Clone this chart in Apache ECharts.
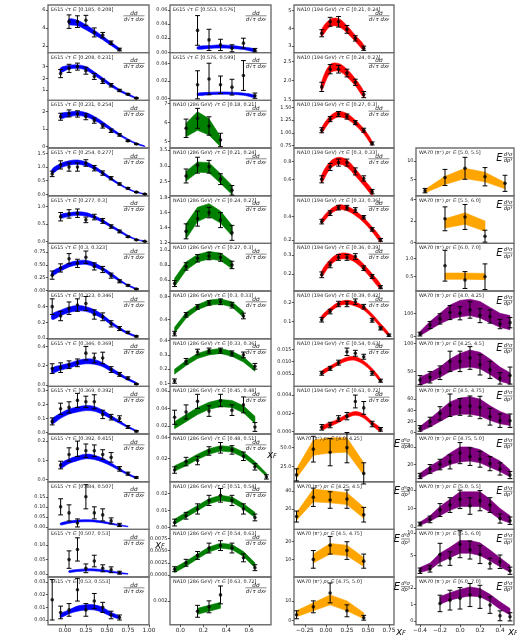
<!DOCTYPE html>
<html>
<head>
<meta charset="utf-8">
<script src="https://cdn.jsdelivr.net/npm/echarts@6/dist/echarts.min.js"></script>
<style>
html,body{margin:0;padding:0;background:#fff}
#chart{width:517px;height:638px}
</style>
</head>
<body>
<div id="chart"></div>
<script>
// ---- Drell-Yan / prompt-photon cross sections: measured points with errors and model bands ----

// E615 (pi- W), bins of sqrt(tau); [xF, value, error]
const E615_BINS = ['[0.185, 0.208]','[0.208, 0.231]','[0.231, 0.254]','[0.254, 0.277]','[0.277, 0.3]','[0.3, 0.323]','[0.323, 0.346]','[0.346, 0.369]','[0.369, 0.392]','[0.392, 0.415]','[0.484, 0.507]','[0.507, 0.53]','[0.53, 0.553]','[0.553, 0.576]','[0.576, 0.599]'];
const E615_POINTS = [
 [[0.05,4.7,0.75],[0.15,4.7,0.65],[0.25,4.85,0.55],[0.35,3.5,0.5],[0.45,3.2,0.3],[0.55,2.35,0.2],[0.65,1.6,0.15]],
 [[-0.05,2.4,0.35],[0.05,2.85,0.35],[0.15,3.0,0.3],[0.25,2.65,0.3],[0.35,2.15,0.25],[0.45,1.75,0.2],[0.55,1.4,0.15],[0.65,0.95,0.1],[0.75,0.63,0.07],[0.85,0.29,0.04]],
 [[-0.05,1.71,0.2],[0.05,1.9,0.2],[0.15,1.87,0.18],[0.25,1.71,0.17],[0.35,1.49,0.15],[0.45,1.18,0.12],[0.55,0.91,0.1],[0.65,0.67,0.07],[0.75,0.33,0.04],[0.85,0.15,0.02]],
 [[-0.15,0.75,0.1],[-0.05,1.08,0.15],[0.05,1.0,0.15],[0.15,1.0,0.15],[0.25,1.15,0.12],[0.35,0.96,0.1],[0.45,0.78,0.08],[0.55,0.59,0.06],[0.65,0.38,0.04],[0.75,0.22,0.03],[0.85,0.08,0.015],[0.95,0.01,0.01]],
 [[-0.05,0.71,0.12],[0.05,0.79,0.12],[0.15,0.81,0.12],[0.25,0.62,0.08],[0.35,0.7,0.08],[0.45,0.59,0.07],[0.55,0.43,0.05],[0.65,0.29,0.04],[0.75,0.14,0.02],[0.85,0.05,0.01],[0.95,0.005,0.005]],
 [[-0.15,0.3,0.08],[-0.05,0.44,0.08],[0.05,0.62,0.1],[0.15,0.53,0.08],[0.25,0.65,0.12],[0.35,0.47,0.07],[0.45,0.41,0.06],[0.55,0.29,0.05],[0.65,0.18,0.03],[0.75,0.1,0.015],[0.85,0.03,0.008]],
 [[-0.15,0.4,0.1],[-0.05,0.28,0.06],[0.05,0.38,0.08],[0.15,0.42,0.08],[0.25,0.44,0.09],[0.35,0.3,0.06],[0.45,0.27,0.05],[0.55,0.18,0.04],[0.65,0.12,0.025],[0.75,0.07,0.015],[0.85,0.02,0.008]],
 [[-0.15,0.17,0.05],[-0.05,0.18,0.05],[0.05,0.21,0.04],[0.15,0.23,0.04],[0.25,0.33,0.07],[0.35,0.28,0.05],[0.45,0.28,0.06],[0.55,0.16,0.03],[0.65,0.11,0.02],[0.75,0.07,0.015],[0.85,0.01,0.005]],
 [[-0.15,0.08,0.025],[-0.05,0.17,0.04],[0.05,0.18,0.04],[0.15,0.23,0.05],[0.25,0.22,0.04],[0.35,0.22,0.05],[0.45,0.13,0.03],[0.55,0.11,0.02],[0.65,0.1,0.02],[0.75,0.04,0.01],[0.85,0.01,0.005]],
 [[-0.05,0.075,0.02],[0.05,0.13,0.035],[0.15,0.16,0.04],[0.25,0.15,0.035],[0.35,0.15,0.03],[0.45,0.13,0.025],[0.55,0.115,0.025],[0.65,0.055,0.012],[0.75,0.03,0.008],[0.85,0.01,0.004]],
 [[-0.05,0.1,0.04],[0.05,0.07,0.04],[0.15,0.02,0.02],[0.25,0.15,0.06],[0.35,0.07,0.03],[0.45,0.06,0.03],[0.55,0.03,0.015],[0.65,0.01,0.008]],
 [[0.05,0.05,0.03],[0.15,0.085,0.04],[0.25,0.02,0.015],[0.35,0.045,0.02],[0.45,0.02,0.012],[0.55,0.015,0.01],[0.65,0.005,0.005]],
 [[-0.15,0.016,0.016],[-0.05,0.006,0.005],[0.05,0.008,0.005],[0.15,0.024,0.009],[0.25,0.008,0.005],[0.35,0.015,0.006],[0.45,0.01,0.004],[0.55,0.004,0.003],[0.65,0.002,0.002]],
 [[0.15,0.031,0.021],[0.25,0.0176,0.015],[0.35,0.0105,0.008],[0.45,0.0057,0.005],[0.55,0.013,0.007],[0.65,0.003,0.0025]],
 [[0.15,0.0154,0.016],[0.25,0.022,0.018],[0.35,0.0154,0.01],[0.45,0.0127,0.009],[0.55,0.026,0.017],[0.65,0.003,0.003]]
];
// model bands: [xF, lower, upper]
const E615_BANDS = [
 [[0.05,4.4,5.0],[0.15,4.25,4.85],[0.25,3.8,4.35],[0.35,3.25,3.75],[0.45,2.7,3.1],[0.55,2.05,2.4],[0.65,1.45,1.7]],
 [[-0.05,2.5,2.9],[0.05,2.8,3.1],[0.15,2.85,3.15],[0.25,2.7,3.0],[0.35,2.25,2.55],[0.45,1.76,2.04],[0.55,1.28,1.52],[0.65,0.86,1.04],[0.75,0.53,0.67],[0.85,0.24,0.32]],
 [[-0.05,1.62,1.88],[0.05,1.72,1.98],[0.15,1.78,2.02],[0.25,1.71,1.95],[0.35,1.51,1.73],[0.45,1.23,1.43],[0.55,0.92,1.08],[0.65,0.62,0.74],[0.75,0.36,0.44],[0.85,0.14,0.2],[0.95,0.0,0.04]],
 [[-0.15,0.77,0.93],[-0.05,0.97,1.13],[0.05,1.07,1.23],[0.15,1.1,1.26],[0.25,1.05,1.19],[0.35,0.92,1.04],[0.45,0.73,0.83],[0.55,0.53,0.61],[0.65,0.34,0.4],[0.75,0.18,0.22],[0.85,0.07,0.09],[0.95,0.0,0.02]],
 [[-0.05,0.67,0.77],[0.05,0.72,0.82],[0.15,0.75,0.85],[0.25,0.73,0.83],[0.35,0.66,0.74],[0.45,0.54,0.62],[0.55,0.41,0.47],[0.65,0.27,0.33],[0.75,0.14,0.18],[0.85,0.05,0.07],[0.95,0.0,0.02]],
 [[-0.15,0.29,0.37],[-0.05,0.38,0.46],[0.05,0.46,0.54],[0.15,0.5,0.58],[0.25,0.51,0.59],[0.35,0.46,0.54],[0.45,0.39,0.45],[0.55,0.28,0.34],[0.65,0.18,0.22],[0.75,0.09,0.11],[0.85,0.02,0.04]],
 [[-0.15,0.235,0.305],[-0.05,0.285,0.355],[0.05,0.325,0.395],[0.15,0.345,0.415],[0.25,0.34,0.4],[0.35,0.3,0.36],[0.45,0.245,0.295],[0.55,0.17,0.21],[0.65,0.105,0.135],[0.75,0.05,0.07],[0.85,0.012,0.028]],
 [[-0.15,0.125,0.175],[-0.05,0.155,0.205],[0.05,0.175,0.225],[0.15,0.205,0.255],[0.25,0.22,0.27],[0.35,0.215,0.265],[0.45,0.19,0.23],[0.55,0.14,0.18],[0.65,0.095,0.125],[0.75,0.05,0.07],[0.85,0.014,0.026]],
 [[-0.15,0.062,0.098],[-0.05,0.102,0.138],[0.05,0.132,0.168],[0.15,0.147,0.183],[0.25,0.157,0.193],[0.35,0.153,0.187],[0.45,0.13,0.16],[0.55,0.098,0.122],[0.65,0.066,0.084],[0.75,0.034,0.046],[0.85,0.008,0.016]],
 [[-0.05,0.058,0.082],[0.05,0.083,0.107],[0.15,0.098,0.122],[0.25,0.108,0.132],[0.35,0.104,0.126],[0.45,0.09,0.11],[0.55,0.07,0.086],[0.65,0.046,0.058],[0.75,0.023,0.031],[0.85,0.005,0.011]],
 [[-0.05,0.01,0.02],[0.05,0.018,0.028],[0.15,0.024,0.034],[0.25,0.026,0.036],[0.35,0.025,0.034],[0.45,0.02,0.028],[0.55,0.013,0.02],[0.65,0.006,0.011],[0.75,0.001,0.004]],
 [[0.05,0.006,0.012],[0.15,0.009,0.016],[0.25,0.011,0.018],[0.35,0.011,0.018],[0.45,0.009,0.015],[0.55,0.006,0.011],[0.65,0.002,0.006],[0.75,0.0,0.002]],
 [[-0.05,0.002,0.005],[0.05,0.005,0.008],[0.15,0.007,0.011],[0.25,0.008,0.012],[0.35,0.008,0.012],[0.45,0.006,0.01],[0.55,0.003,0.006],[0.65,0.001,0.003]],
 [[0.15,0.0045,0.008],[0.25,0.0055,0.0095],[0.35,0.006,0.0105],[0.45,0.0055,0.0095],[0.55,0.004,0.0075],[0.65,0.001,0.0045]],
 [[0.15,0.0032,0.0058],[0.25,0.0042,0.0068],[0.35,0.0047,0.0073],[0.45,0.0044,0.007],[0.55,0.0035,0.006],[0.65,0.001,0.0035]]
];
const E615_YLIM = [[1.25,6.55],[0.1,4.2],[-0.08,2.65],[-0.05,1.7],[-0.05,1.31],[-0.01,0.92],[-0.01,0.6],[-0.014,0.48],[-0.01,0.33],[-0.012,0.237],[-0.012,0.225],[-0.01,0.154],[-0.0037,0.034],[-0.0005,0.067],[-0.0023,0.052]];
const E615_YTICKS = [['2','4','6'],['1','2','3'],['0','1','2'],['0.0','0.5','1.0','1.5'],['0.0','0.5','1.0'],['0.00','0.25','0.50','0.75'],['0.0','0.2','0.4'],['0.0','0.2','0.4'],['0.0','0.1','0.2','0.3'],['0.0','0.1','0.2'],['0.00','0.05','0.10','0.15'],['0.00','0.05','0.10'],['0.00','0.01','0.02','0.03'],['0.00','0.02','0.04','0.06'],['0.00','0.02','0.04']];

// NA10 at 286 GeV
const NA10_286_BINS = ['[0.18, 0.21]','[0.21, 0.24]','[0.24, 0.27]','[0.27, 0.3]','[0.3, 0.33]','[0.33, 0.36]','[0.45, 0.48]','[0.48, 0.51]','[0.51, 0.54]','[0.54, 0.63]','[0.63, 0.72]'];
const NA10_286_POINTS = [
 [[0.05,5.7,0.48],[0.15,6.22,0.52],[0.25,5.82,0.48],[0.35,5.09,0.35]],
 [[0.05,2.68,0.22],[0.15,3.02,0.25],[0.25,2.97,0.2],[0.35,2.58,0.17],[0.45,2.23,0.15]],
 [[0.05,1.35,0.1],[0.15,1.52,0.1],[0.25,1.6,0.07],[0.35,1.5,0.1],[0.45,1.33,0.1]],
 [[-0.05,0.55,0.04],[0.05,0.78,0.05],[0.15,0.89,0.05],[0.25,0.92,0.05],[0.35,0.9,0.05],[0.45,0.8,0.05]],
 [[-0.05,0.15,0.04],[0.05,0.48,0.04],[0.15,0.62,0.04],[0.25,0.69,0.04],[0.35,0.71,0.05],[0.45,0.65,0.05],[0.55,0.46,0.05]],
 [[-0.05,0.116,0.015],[0.05,0.255,0.02],[0.15,0.32,0.02],[0.25,0.33,0.018],[0.35,0.33,0.018],[0.45,0.31,0.018],[0.55,0.3,0.02],[0.65,0.22,0.02]],
 [[-0.05,0.03,0.008],[0.05,0.036,0.008],[0.15,0.048,0.008],[0.25,0.037,0.006],[0.35,0.049,0.007],[0.45,0.038,0.006],[0.55,0.044,0.009],[0.65,0.019,0.005]],
 [[-0.05,0.009,0.003],[0.05,0.017,0.004],[0.15,0.018,0.004],[0.25,0.027,0.004],[0.35,0.03,0.005],[0.45,0.028,0.004],[0.55,0.022,0.004],[0.65,0.012,0.003],[0.75,0.0025,0.002]],
 [[-0.05,0.003,0.002],[0.05,0.007,0.002],[0.15,0.011,0.003],[0.25,0.016,0.003],[0.35,0.019,0.004],[0.45,0.016,0.003],[0.55,0.011,0.003],[0.65,0.006,0.002]],
 [[-0.05,0.0012,0.0005],[0.05,0.0025,0.0007],[0.15,0.004,0.0008],[0.25,0.0055,0.001],[0.35,0.006,0.001],[0.45,0.0055,0.001],[0.55,0.0035,0.0008],[0.65,0.0015,0.0006]],
 [[0.15,0.0013,0.0004],[0.25,0.0016,0.0004],[0.35,0.0024,0.0006]]
];
const NA10_286_BANDS = [
 [[0.05,5.26,5.96],[0.15,5.6,6.57],[0.25,5.35,6.2],[0.35,4.74,5.26]],
 [[0.05,2.52,2.82],[0.15,2.8,3.12],[0.25,2.78,3.1],[0.35,2.45,2.75],[0.45,2.1,2.38]],
 [[0.05,1.25,1.45],[0.15,1.48,1.67],[0.25,1.55,1.72],[0.35,1.46,1.62],[0.45,1.29,1.43]],
 [[-0.05,0.51,0.62],[0.05,0.73,0.84],[0.15,0.84,0.94],[0.25,0.88,0.98],[0.35,0.86,0.96],[0.45,0.75,0.85]],
 [[-0.05,0.16,0.26],[0.05,0.42,0.52],[0.15,0.57,0.66],[0.25,0.65,0.74],[0.35,0.67,0.76],[0.45,0.62,0.71],[0.55,0.44,0.54]],
 [[-0.05,0.165,0.2],[0.05,0.225,0.26],[0.15,0.275,0.31],[0.25,0.3,0.335],[0.35,0.31,0.345],[0.45,0.29,0.325],[0.55,0.25,0.285],[0.65,0.185,0.215]],
 [[-0.05,0.017,0.025],[0.05,0.025,0.033],[0.15,0.033,0.041],[0.25,0.039,0.047],[0.35,0.042,0.05],[0.45,0.041,0.049],[0.55,0.035,0.043],[0.65,0.023,0.031]],
 [[-0.05,0.008,0.013],[0.05,0.013,0.018],[0.15,0.019,0.024],[0.25,0.024,0.029],[0.35,0.027,0.032],[0.45,0.026,0.031],[0.55,0.021,0.026],[0.65,0.013,0.017],[0.75,0.003,0.006]],
 [[-0.05,0.002,0.005],[0.05,0.006,0.009],[0.15,0.01,0.013],[0.25,0.014,0.017],[0.35,0.016,0.019],[0.45,0.015,0.018],[0.55,0.011,0.014],[0.65,0.006,0.009]],
 [[-0.05,0.0005,0.0015],[0.05,0.0018,0.0028],[0.15,0.0033,0.0043],[0.25,0.0047,0.0057],[0.35,0.0055,0.0065],[0.45,0.0052,0.0062],[0.55,0.0038,0.0048],[0.65,0.0015,0.0025]],
 [[0.15,0.0011,0.0015],[0.25,0.0013,0.0017],[0.35,0.0015,0.0019]]
];
const NA10_286_YLIM = [[4.67,7.16],[2.06,3.56],[1.19,1.826],[0.45,1.09],[0.06,0.9],[0.079,0.414],[0.011,0.065],[-0.002,0.043],[-0.001,0.027],[-0.0004,0.0093],[0.0004,0.0036]];
const NA10_286_YTICKS = [['5','6','7'],['2.5','3.0','3.5'],['1.2','1.4','1.6','1.8'],['0.6','0.8','1.0'],['0.4','0.8'],['0.1','0.2','0.3','0.4'],['0.02','0.04','0.06'],['0.02','0.04'],['0.00','0.01','0.02'],['0.0000','0.0025','0.0050','0.0075'],['0.002']];

// NA10 at 194 GeV
const NA10_194_BINS = ['[0.21, 0.24]','[0.24, 0.27]','[0.27, 0.3]','[0.3, 0.33]','[0.33, 0.36]','[0.36, 0.39]','[0.39, 0.42]','[0.54, 0.63]','[0.63, 0.72]'];
const NA10_194_POINTS = [
 [[-0.05,3.72,0.2],[0.05,4.37,0.25],[0.15,4.37,0.3],[0.25,3.94,0.22],[0.35,3.43,0.15],[0.45,2.87,0.12]],
 [[-0.05,1.84,0.12],[0.05,2.3,0.12],[0.15,2.3,0.1],[0.25,2.2,0.1],[0.35,1.96,0.08],[0.45,1.64,0.08]],
 [[-0.05,1.05,0.05],[0.05,1.27,0.05],[0.15,1.37,0.05],[0.25,1.32,0.05],[0.35,1.2,0.04],[0.45,1.05,0.04],[0.55,0.79,0.03]],
 [[-0.05,0.6,0.04],[0.05,0.74,0.04],[0.15,0.79,0.04],[0.25,0.79,0.04],[0.35,0.69,0.04],[0.45,0.61,0.03],[0.55,0.46,0.025]],
 [[-0.05,0.357,0.02],[0.05,0.43,0.02],[0.15,0.477,0.02],[0.25,0.477,0.02],[0.35,0.457,0.02],[0.45,0.394,0.015],[0.55,0.29,0.015],[0.65,0.2,0.012]],
 [[-0.05,0.195,0.015],[0.05,0.247,0.015],[0.15,0.286,0.015],[0.25,0.286,0.015],[0.35,0.291,0.015],[0.45,0.23,0.012],[0.55,0.186,0.01],[0.65,0.13,0.008]],
 [[-0.05,0.11,0.012],[0.05,0.152,0.012],[0.15,0.191,0.014],[0.25,0.191,0.014],[0.35,0.203,0.014],[0.45,0.177,0.012],[0.55,0.107,0.01],[0.65,0.065,0.008],[0.75,0.03,0.006]],
 [[-0.05,0.0053,0.0008],[0.05,0.0073,0.0008],[0.15,0.0096,0.001],[0.25,0.014,0.0015],[0.35,0.0134,0.0012],[0.45,0.012,0.001],[0.55,0.0053,0.0008],[0.65,0.0023,0.0006]],
 [[-0.05,0.00048,0.0003],[0.05,0.00073,0.0003],[0.15,0.00145,0.0003],[0.25,0.0017,0.0004],[0.35,0.0033,0.0007],[0.45,0.0026,0.0007],[0.55,0.00084,0.0003],[0.65,0.00026,0.0002]]
];
const NA10_194_BANDS = [
 [[-0.05,3.55,3.95],[0.05,4.1,4.5],[0.15,4.1,4.55],[0.25,3.75,4.15],[0.35,3.25,3.6],[0.45,2.77,3.06]],
 [[-0.05,1.75,1.98],[0.05,2.2,2.42],[0.15,2.25,2.45],[0.25,2.1,2.3],[0.35,1.87,2.05],[0.45,1.57,1.72]],
 [[-0.05,1.0,1.1],[0.05,1.22,1.33],[0.15,1.31,1.42],[0.25,1.27,1.38],[0.35,1.15,1.25],[0.45,0.98,1.08],[0.55,0.75,0.83]],
 [[-0.05,0.56,0.65],[0.05,0.72,0.8],[0.15,0.77,0.85],[0.25,0.74,0.82],[0.35,0.64,0.72],[0.45,0.53,0.6],[0.55,0.42,0.48]],
 [[-0.05,0.34,0.38],[0.05,0.42,0.46],[0.15,0.46,0.5],[0.25,0.45,0.49],[0.35,0.41,0.45],[0.45,0.35,0.39],[0.55,0.27,0.31],[0.65,0.18,0.22]],
 [[-0.05,0.185,0.215],[0.05,0.245,0.275],[0.15,0.275,0.305],[0.25,0.278,0.308],[0.35,0.26,0.29],[0.45,0.22,0.25],[0.55,0.17,0.2],[0.65,0.12,0.145]],
 [[-0.05,0.11,0.13],[0.05,0.15,0.17],[0.15,0.18,0.2],[0.25,0.19,0.21],[0.35,0.18,0.2],[0.45,0.16,0.18],[0.55,0.12,0.14],[0.65,0.07,0.09],[0.75,0.025,0.04]],
 [[-0.05,0.0048,0.0062],[0.05,0.0068,0.0082],[0.15,0.0088,0.0102],[0.25,0.0103,0.0118],[0.35,0.0105,0.012],[0.45,0.0088,0.0103],[0.55,0.0058,0.0072],[0.65,0.0018,0.003]],
 [[-0.05,0.0002,0.0006],[0.05,0.0006,0.001],[0.15,0.001,0.0014],[0.25,0.0015,0.0019],[0.35,0.0018,0.0022],[0.45,0.0015,0.0019],[0.55,0.0007,0.0011],[0.65,0.0,0.0004]]
];
const NA10_194_YLIM = [[2.62,5.32],[1.49,2.73],[0.70,1.64],[0.414,0.956],[0.17,0.58],[0.11,0.36],[0.012,0.258],[0.0,0.0193],[-0.00025,0.00495]];
const NA10_194_YTICKS = [['3','4','5'],['1.5','2.0','2.5'],['0.75','1.00','1.25','1.50'],['0.6','0.8'],['0.2','0.4'],['0.2','0.3'],['0.1','0.2'],['0.005','0.010','0.015'],['0.000','0.002','0.004']];

// WA70 prompt photons, pi+ beam, bins of pT
const WA70_PIP_BINS = ['[4.0, 4.25]','[4.25, 4.5]','[4.5, 4.75]','[4.75, 5.0]','[5.0, 5.5]','[5.5, 6.0]','[6.0, 7.0]'];
const WA70_PIP_POINTS = [
 [[-0.35,14,8],[-0.15,48,17],[0.05,44,18],[0.25,50,20],[0.45,16,14]],
 [[-0.35,12,6],[-0.15,33,10],[0.05,30,9],[0.25,31,10],[0.45,14,8]],
 [[-0.15,10,5],[0.05,18,5],[0.25,15,5],[0.45,9,4]],
 [[-0.35,3,2],[-0.15,7,3],[0.05,14,5],[0.25,5,3],[0.45,1.5,1.2]],
 [[-0.35,1.9,0.6],[-0.15,5.5,2.2],[0.05,8.0,3.0],[0.25,5.7,2.5],[0.45,3.9,2.2]],
 [[-0.15,2.2,1.1],[0.05,2.37,1.15],[0.25,0.6,0.55]],
 [[-0.15,0.8,0.42],[0.05,0.41,0.23],[0.25,0.5,0.35]]
];
const WA70_PIP_BANDS = [
 [[-0.35,10,22],[-0.15,40,60],[0.05,43,63],[0.25,44,63],[0.45,14,30]],
 [[-0.35,8,16],[-0.15,28,42],[0.05,27,40],[0.25,25,38],[0.45,10,22]],
 [[-0.15,8,13],[0.05,13,19],[0.25,12,18],[0.45,6,11]],
 [[-0.35,2,5],[-0.15,5,9],[0.05,8,13],[0.25,5,10],[0.45,1,4]],
 [[-0.35,1.3,2.2],[-0.15,3.6,5.8],[0.05,5.2,8.0],[0.25,4.3,6.9],[0.45,2.4,4.1]],
 [[-0.15,1.35,2.2],[0.05,1.7,2.75],[0.25,1.05,2.0]],
 [[-0.15,0.43,0.6],[0.05,0.43,0.6],[0.25,0.42,0.59]]
];
const WA70_PIP_YLIM = [[5,68],[-2,50],[0,27],[-2,22],[0.52,13.55],[-0.06,4.33],[0.11,1.41]];
const WA70_PIP_YTICKS = [['25.0','50.0'],['20','40'],['10','20'],['0','10'],['5','10'],['0','2','4'],['0.5','1.0']];

// WA70 prompt photons, pi- beam
const WA70_PIM_BINS = ['[4.0, 4.25]','[4.25, 4.5]','[4.5, 4.75]','[4.75, 5.0]','[5.0, 5.5]','[5.5, 6.0]','[6.0, 7.0]'];
const WA70_PIM_POINTS = [
 [[-0.4,11,8],[-0.3,50,15],[-0.2,76,22],[-0.1,103,30],[0.0,100,28],[0.1,114,35],[0.2,90,30],[0.3,86,28],[0.4,54,20],[0.5,60,22]],
 [[-0.4,35,8],[-0.3,40,10],[-0.2,48,12],[-0.1,68,18],[0.0,68,18],[0.1,74,20],[0.2,62,18],[0.3,53,15],[0.4,38,10],[0.5,43,15]],
 [[-0.4,7.7,5],[-0.3,19.6,8],[-0.2,34.4,12],[-0.1,49,20],[0.0,46,15],[0.1,47.5,18],[0.2,45,20],[0.3,28.5,15],[0.4,21.4,12],[0.5,21.4,12]],
 [[-0.4,7,3],[-0.3,15,5],[-0.2,20,6],[-0.1,23,8],[0.0,33,12],[0.1,29,10],[0.2,26,9],[0.3,21,8],[0.4,15,7],[0.5,8,4]],
 [[-0.4,1.5,1],[-0.3,4,1.8],[-0.2,9.1,3.5],[-0.1,11.8,4],[0.0,14.9,5],[0.1,11.3,4.5],[0.2,14.2,5.5],[0.3,11.8,4],[0.4,4.5,2.5],[0.5,3.3,2]],
 [[-0.4,1.6,0.6],[-0.3,2.0,0.7],[-0.2,5.2,2.5],[-0.1,4.3,1.5],[0.0,7.5,3.0],[0.1,6.2,2],[0.2,5.2,2],[0.3,3.2,1.2],[0.4,3.6,1.5],[0.5,1.6,0.8]],
 [[-0.2,1.05,0.5],[-0.1,1.25,0.6],[0.0,1.36,0.65],[0.1,1.56,0.7],[0.2,1.45,0.7],[0.3,0.95,0.5],[0.4,0.3,0.3],[0.5,0.24,0.25]]
];
const WA70_PIM_BANDS = [
 [[-0.4,4,22],[-0.3,30,65],[-0.2,55,100],[-0.1,75,135],[0.0,85,155],[0.1,90,160],[0.2,80,150],[0.3,60,125],[0.4,40,100],[0.5,30,90]],
 [[-0.4,26,40],[-0.3,32,48],[-0.2,40,58],[-0.1,50,72],[0.0,56,82],[0.1,58,88],[0.2,55,84],[0.3,45,72],[0.4,33,58],[0.5,28,48]],
 [[-0.4,2,11],[-0.3,10,25],[-0.2,20,40],[-0.1,30,55],[0.0,33,62],[0.1,33,64],[0.2,30,60],[0.3,22,48],[0.4,16,38],[0.5,13,31]],
 [[-0.4,4,10],[-0.3,10,18],[-0.2,15,25],[-0.1,20,33],[0.0,23,40],[0.1,24,40],[0.2,22,37],[0.3,17,30],[0.4,12,24],[0.5,6,14]],
 [[-0.4,0.8,2.5],[-0.3,3,6],[-0.2,6,11],[-0.1,9,15],[0.0,11,19],[0.1,11,19],[0.2,11,19],[0.3,8,15],[0.4,4,10],[0.5,2,6]],
 [[-0.4,1.2,2.3],[-0.3,1.8,3.3],[-0.2,3.5,5.5],[-0.1,4.5,6.8],[0.0,5.5,8.3],[0.1,5.5,8.3],[0.2,5,7.8],[0.3,3.8,6.2],[0.4,2.5,4.5],[0.5,1.3,2.8]],
 [[-0.2,1.0,1.45],[-0.1,1.25,1.7],[0.0,1.4,1.9],[0.1,1.5,2.05],[0.2,1.45,1.95],[0.3,1.15,1.6],[0.4,0.7,1.15],[0.5,0.35,0.75]]
];
const WA70_PIM_YLIM = [[-8.5,195],[24,108],[-2.4,82.7],[0.5,54.7],[-1.4,24.5],[0.2,10.8],[-0.24,2.65]];
const WA70_PIM_YTICKS = [['0','100'],['50','100'],['0','20','40','60'],['20','40'],['0','10','20'],['5','10'],['0','1','2']];

// x-axis tick labels of the bottom panel in each column
const X_TICKS = [['0.00','0.25','0.50','0.75','1.00'],['0.0','0.2','0.4','0.6'],['−0.25','0.00','0.25','0.50','0.75'],['−0.4','−0.2','0.0','0.2','0.4']];

// ---- layout ----
const ROW_TOP = 5, ROW_H = 47.67, NROWS = 13;
const COLS = [
  {left: 48,  right: 149, xMin: -0.2,  xMax: 1.0},
  {left: 170, right: 271, xMin: -0.09, xMax: 0.79},
  {left: 294, right: 394, xMin: -0.38, xMax: 0.81},
  {left: 416, right: 514, xMin: -0.44, xMax: 0.54}
];
const FONT = '"DejaVu Sans", "Liberation Sans", sans-serif';
const STYLE = {
  e615: {color: '#0000ff', smooth: 0.35, head: 'E615 √τ ∈ ', frac: 'tau'},
  n286: {color: '#008000', smooth: 0,    head: 'NA10 (286 GeV) √τ ∈ ', frac: 'tau'},
  n194: {color: '#ff0000', smooth: 0.35, head: 'NA10 (194 GeV) √τ ∈ ', frac: 'tau'},
  pip:  {color: '#ffa500', smooth: 0,    head: 'WA70 (π⁺) ', frac: 'E'},
  pim:  {color: '#800080', smooth: 0,    head: 'WA70 (π⁻) ', frac: 'E'}
};

const panels = [];
function addSet(kind, bins, pts, bands, ylim, yticks, place) {
  bins.forEach((b, i) => {
    const [col, row] = place(i);
    panels.push({kind, bin: b, pts: pts[i], band: bands[i], ylim: ylim[i], yticks: yticks[i], col, row});
  });
}
addSet('e615', E615_BINS, E615_POINTS, E615_BANDS, E615_YLIM, E615_YTICKS, i => i < 13 ? [0, i] : [1, i - 13]);
addSet('n286', NA10_286_BINS, NA10_286_POINTS, NA10_286_BANDS, NA10_286_YLIM, NA10_286_YTICKS, i => [1, i + 2]);
addSet('n194', NA10_194_BINS, NA10_194_POINTS, NA10_194_BANDS, NA10_194_YLIM, NA10_194_YTICKS, i => [2, i]);
addSet('pip', WA70_PIP_BINS, WA70_PIP_POINTS, WA70_PIP_BANDS, WA70_PIP_YLIM, WA70_PIP_YTICKS, i => i < 4 ? [2, 9 + i] : [3, i - 1]);
addSet('pim', WA70_PIM_BINS, WA70_PIM_POINTS, WA70_PIM_BANDS, WA70_PIM_YLIM, WA70_PIM_YTICKS, i => [3, 6 + i]);

const num = s => parseFloat(s.replace('−', '-'));
function labelFor(strs) {
  const vals = strs.map(num);
  return v => {
    let best = 0;
    vals.forEach((t, j) => { if (Math.abs(t - v) < Math.abs(vals[best] - v)) best = j; });
    return strs[best];
  };
}

function bandRenderer(band, color, smooth) {
  return function (params, api) {
    if (params.dataIndex !== 0) return null;
    const up = band.map(b => api.coord([b[0], b[2]]));
    const lo = band.map(b => api.coord([b[0], b[1]])).reverse();
    return {
      type: 'polygon',
      shape: {points: up.concat(lo), smooth: smooth},
      style: {fill: color, stroke: color, lineWidth: 0.6}
    };
  };
}
function errRenderer(params, api) {
  const x = api.value(0), y = api.value(1), e = api.value(2);
  const t = api.coord([x, y + e]), b = api.coord([x, y - e]);
  const c = 2.4;
  const st = {stroke: '#000', lineWidth: 1};
  return {type: 'group', children: [
    {type: 'line', shape: {x1: t[0], y1: t[1], x2: b[0], y2: b[1]}, style: st},
    {type: 'line', shape: {x1: t[0] - c, y1: t[1], x2: t[0] + c, y2: t[1]}, style: st},
    {type: 'line', shape: {x1: b[0] - c, y1: b[1], x2: b[0] + c, y2: b[1]}, style: st}
  ]};
}

const grid = [], xAxis = [], yAxis = [], series = [], elements = [];
panels.forEach((p, k) => {
  const c = COLS[p.col];
  const st = STYLE[p.kind];
  const top = ROW_TOP + p.row * ROW_H;
  const w = c.right - c.left;
  const bottom = p.row === NROWS - 1;
  grid.push({left: c.left, top: top, width: w, height: ROW_H, show: true,
             borderColor: '#707070', borderWidth: 1.4, containLabel: false});
  const xs = X_TICKS[p.col];
  xAxis.push({
    type: 'value', gridIndex: k, min: c.xMin, max: c.xMax, position: 'bottom',
    axisLine: {show: false, onZero: false}, splitLine: {show: false},
    axisTick: {show: bottom, customValues: xs.map(num), length: 2.5, lineStyle: {color: '#333', width: 0.8}},
    axisLabel: {show: bottom, customValues: xs.map(num), formatter: labelFor(xs),
                fontSize: 5.8, fontFamily: FONT, color: '#222', margin: 3}
  });
  const ys = p.yticks;
  yAxis.push({
    type: 'value', gridIndex: k, min: p.ylim[0], max: p.ylim[1], position: 'left',
    axisLine: {show: false, onZero: false}, splitLine: {show: false},
    axisTick: {show: true, customValues: ys.map(num), length: 2.2, lineStyle: {color: '#333', width: 0.8}},
    axisLabel: {show: true, customValues: ys.map(num), formatter: labelFor(ys),
                fontSize: 5, fontFamily: FONT, color: '#222', margin: 2.5}
  });
  series.push({
    type: 'custom', xAxisIndex: k, yAxisIndex: k, data: p.band, z: 1,
    encode: {x: 0, y: [1, 2]}, renderItem: bandRenderer(p.band, st.color, st.smooth), silent: true
  });
  series.push({
    type: 'custom', xAxisIndex: k, yAxisIndex: k, data: p.pts, z: 3,
    encode: {x: 0, y: 1}, renderItem: errRenderer, silent: true
  });
  series.push({
    type: 'scatter', xAxisIndex: k, yAxisIndex: k, data: p.pts.map(d => [d[0], d[1]]),
    symbol: 'circle', symbolSize: 3.6, itemStyle: {color: '#000'}, z: 4, silent: true
  });

  // panel heading
  if (st.frac === 'tau') {
    elements.push({type: 'text', x: c.left + 3, y: top + 4.6, z: 10,
      style: {text: st.head + p.bin, font: '4.9px ' + FONT, fill: '#222', textVerticalAlign: 'middle', verticalAlign: 'middle'}});
    const fx = c.right - 15;
    elements.push({type: 'text', x: fx, y: top + 8, z: 10,
      style: {text: 'dσ', font: 'italic 5.8px ' + FONT, fill: '#111', textAlign: 'center', align: 'center', textVerticalAlign: 'middle', verticalAlign: 'middle'}});
    elements.push({type: 'line', z: 10, shape: {x1: fx - 10.5, y1: top + 10.8, x2: fx + 10.5, y2: top + 10.8},
      style: {stroke: '#111', lineWidth: 0.5}});
    elements.push({type: 'text', x: fx, y: top + 14.2, z: 10,
      style: {text: '{a|d√τ dx}{b|F}', textAlign: 'center', align: 'center', textVerticalAlign: 'middle', verticalAlign: 'middle',
        rich: {a: {font: 'italic 5.4px ' + FONT, fill: '#111'}, b: {font: 'italic 3.8px ' + FONT, fill: '#111', verticalAlign: 'bottom'}}}});
  } else {
    elements.push({type: 'text', x: c.left + 3, y: top + 4.6, z: 10,
      style: {text: st.head + '{i|p}{s|T} ∈ ' + p.bin, textVerticalAlign: 'middle', verticalAlign: 'middle',
        rich: {i: {font: 'italic 4.9px ' + FONT, fill: '#222'}, s: {font: '3.5px ' + FONT, fill: '#222', verticalAlign: 'bottom'}},
        font: '4.9px ' + FONT, fill: '#222'}});
    const inside = p.col === 3;
    const ex = inside ? c.right - 14.5 : c.right + 3;
    const fx = ex + 8.5;
    elements.push({type: 'text', x: ex, y: top + 10, z: 10,
      style: {text: 'E', font: 'italic 10px ' + FONT, fill: '#111', textAlign: 'center', align: 'center', textVerticalAlign: 'middle', verticalAlign: 'middle'}});
    elements.push({type: 'text', x: fx, y: top + 6.6, z: 10,
      style: {text: 'd³σ', font: 'italic 5.2px ' + FONT, fill: '#111', textAlign: 'center', align: 'center', textVerticalAlign: 'middle', verticalAlign: 'middle'}});
    elements.push({type: 'line', z: 10, shape: {x1: fx - 4.5, y1: top + 9.6, x2: fx + 4.5, y2: top + 9.6},
      style: {stroke: '#111', lineWidth: 0.5}});
    elements.push({type: 'text', x: fx, y: top + 13, z: 10,
      style: {text: 'dp³', font: 'italic 5.2px ' + FONT, fill: '#111', textAlign: 'center', align: 'center', textVerticalAlign: 'middle', verticalAlign: 'middle'}});
  }
});

// axis titles
const XF_POS = [[160, 545], [272, 455], [401, 632], [513, 632]];
XF_POS.forEach(([x, y]) => {
  elements.push({type: 'text', x: x, y: y, z: 10,
    style: {text: '{a|x}{b|F}', textAlign: 'center', align: 'center', textVerticalAlign: 'middle', verticalAlign: 'middle',
      rich: {a: {font: 'italic 10px ' + FONT, fill: '#111'}, b: {font: 'italic 6.5px ' + FONT, fill: '#111', verticalAlign: 'bottom'}}}});
});

const chart = echarts.init(document.getElementById('chart'), null, {renderer: 'canvas'});
chart.setOption({
  animation: false,
  backgroundColor: '#ffffff',
  grid: grid, xAxis: xAxis, yAxis: yAxis, series: series,
  graphic: {elements: elements}
});
</script>
</body>
</html>
